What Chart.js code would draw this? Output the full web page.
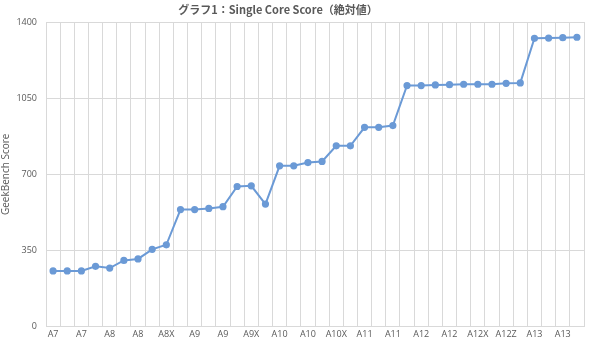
<!DOCTYPE html>
<html>
<head>
<meta charset="utf-8">
<script src="https://cdn.jsdelivr.net/npm/chart.js@4"></script>
<style>
    html, body { margin: 0; padding: 0; background: #fff; }
    #wrap { width: 590px; height: 341px; position: relative; }
</style>
</head>
<body>
<div id="wrap"><canvas id="ScoreChart"></canvas></div>
<script>
const chips = ["A7", "A7", "A7", "A8", "A8", "A8", "A8", "A8X", "A8X", "A9",
    "A9", "A9", "A9", "A9X", "A9X", "A9", "A10", "A10", "A10", "A10X",
    "A10X", "A10X", "A11", "A11", "A11", "A12", "A12", "A12", "A12", "A12X",
    "A12X", "A12X", "A12Z", "A12Z", "A13", "A13", "A13", "A13"];
const scores = [256, 256, 256, 277, 269, 304, 311, 355, 376, 538,
    538, 543, 551, 644, 647, 563, 739, 739, 754, 759,
    831, 831, 916, 916, 924, 1108, 1108, 1111, 1112, 1114,
    1114, 1114, 1118, 1120, 1325, 1326, 1328, 1330];
const yTicks = [0, 350, 700, 1050, 1400];
const chartTitle = "グラフ1：Single Core Score（絶対値）";

// title sits a bit left of centre in the original, so draw it by hand
const titlePlugin = {
    id: "leftTitle",
    afterDraw(chart) {
        const c = chart.ctx;
        c.save();
        c.font = "bold 11px 'Noto Sans CJK JP', sans-serif";
        c.fillStyle = "#595959";
        c.textAlign = "center";
        c.textBaseline = "middle";
        c.fillText(chartTitle, 278, 10);
        c.restore();
    },
};

function ScoreChart() {
    const ctx = document.getElementById("ScoreChart");
    const font = "'Open Sans', 'Noto Sans CJK JP', sans-serif";

    new Chart(ctx, {
        type: "line",
        data: {
            labels: chips,
            datasets: [
                {
                    label: "Single Core Score",
                    data: scores,
                    borderColor: "#6b9ad6",
                    backgroundColor: "#6b9ad6",
                    borderWidth: 2,
                    fill: false,
                    tension: 0,
                    pointRadius: 2.6,
                    pointHoverRadius: 4,
                },
            ],
        },
        options: {
            responsive: true,
            maintainAspectRatio: false,
            animation: false,
            layout: {
                padding: { left: 0, right: -1, top: 22, bottom: 0 },
            },
            plugins: {
                legend: { display: false },
                title: { display: false },
            },
            scales: {
                x: {
                    offset: true,
                    afterFit: (scale) => {
                        scale.height = 13;
                        scale.paddingLeft = 0;
                        scale.paddingRight = 0;
                    },
                    grid: {
                        offset: true,
                        color: "#d9d9d9",
                        drawTicks: false,
                    },
                    border: { color: "#d9d9d9" },
                    ticks: {
                        autoSkip: false,
                        maxRotation: 0,
                        padding: 2,
                        color: "#595959",
                        font: { family: font, size: 9 },
                        callback: function (value, index) {
                            return index % 2 === 0 ? this.getLabelForValue(value) : "";
                        },
                    },
                },
                y: {
                    min: 0,
                    max: 1400,
                    afterBuildTicks: (scale) => {
                        scale.ticks = yTicks.map((v) => ({ value: v }));
                    },
                    afterFit: (scale) => {
                        scale.width = 46;
                    },
                    grid: {
                        color: "#d9d9d9",
                        drawTicks: false,
                    },
                    border: { display: false },
                    title: {
                        display: true,
                        text: "GeekBench Score",
                        color: "#595959",
                        font: { family: font, size: 10 },
                        padding: 0,
                    },
                    ticks: {
                        padding: 9,
                        color: "#595959",
                        font: { family: font, size: 9 },
                        callback: (value) => String(value),
                    },
                },
            },
        },
        plugins: [titlePlugin],
    });
}

ScoreChart();
</script>
</body>
</html>
